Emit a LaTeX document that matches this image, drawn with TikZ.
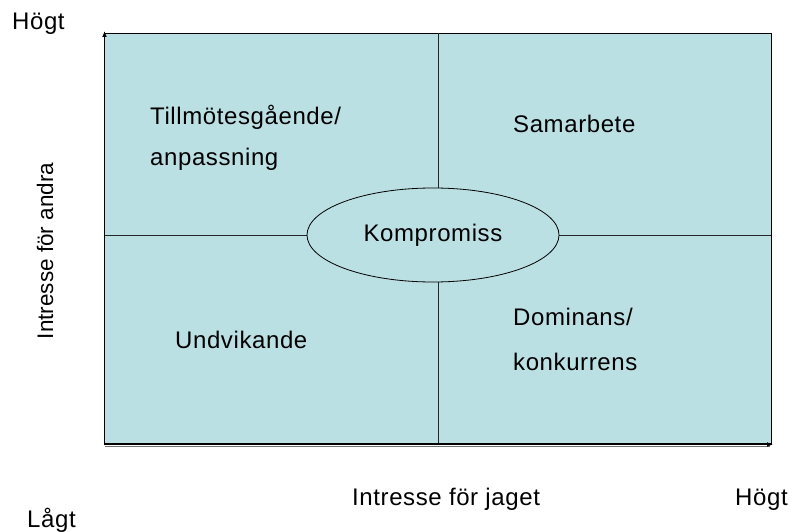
\documentclass[tikz,border=0pt]{standalone}
\usepackage{fontspec}
\setmainfont{Liberation Sans}
\newfontfamily\hfont[LetterSpace=2.5]{Liberation Sans}
\usetikzlibrary{arrows.meta,shapes.geometric}
\definecolor{quadfill}{HTML}{BBE0E3}
\begin{document}
\begin{tikzpicture}[x=1pt,y=-1pt,
  lbl/.style={inner sep=0pt,font=\fontsize{24}{28}\selectfont\hfont,anchor=base west},
  vlbl/.style={inner sep=0pt,font=\fontsize{22.5}{26}\selectfont,rotate=90,anchor=base},
  axis/.style={line width=1.6pt,-{Latex[length=6pt,width=5pt]}},
  divider/.style={line width=0.8pt,draw=black!85},
  compbox/.style={ellipse,draw=black,line width=0.8pt,fill=quadfill,minimum width=252pt,minimum height=94pt,inner sep=0pt,font=\fontsize{24}{28}\selectfont\hfont}]
\useasboundingbox (0,0) rectangle (790,532);
% corners and edge points
\coordinate (tl) at (104.5,33);
\coordinate (tr) at (771,33);
\coordinate (br) at (771,443);
\coordinate (bl) at (104.5,443);
\coordinate (tm) at (438,33);
\coordinate (bm) at (438,443);
\coordinate (lm) at (104.5,235);
\coordinate (rm) at (771,235);
\coordinate (xend) at (773,444.5);
\coordinate (xstart) at (104.5,444.5);
\coordinate (ystart) at (104.5,444.5);
\coordinate (yend) at (104.5,31);
% quadrant area
\fill[quadfill] (tl) rectangle (br);
\draw[line width=0.9pt] (bl) -- (tl) -- (tr) -- (br) -- (bl);
\draw[black!55,line width=0.8pt] (104.5,446.5) -- (770,446.5);
% dividers
\draw[divider] (tm) -- (bm);
\draw[divider] (lm) -- (rm);
% axes
\draw[axis] (xstart) -- (xend);
\draw[axis] (ystart) -- (yend);
% ellipse
\node[compbox] (komp) at (433,235) {Kompromiss};
% quadrant labels
\node[lbl] (till) at (150,125) {Tillmötesgående/};
\node[lbl] (anp) at (150,165) {anpassning};
\node[lbl] (sam) at (513,133) {Samarbete};
\node[lbl] (und) at (175,348) {Undvikande};
\node[lbl] (dom) at (513,325) {Dominans/};
\node[lbl] (konk) at (513,370) {konkurrens};
% axis labels
\node[lbl] (hogtY) at (12,30) {Högt};
\node[lbl] (lagt) at (27,527) {Lågt};
\node[lbl] (hogtX) at (735,505) {Högt};
\node[lbl] (jaget) at (352,505) {Intresse för jaget};
\node[vlbl] (andra) at (53,251) {Intresse för andra};
\end{tikzpicture}
\end{document}
